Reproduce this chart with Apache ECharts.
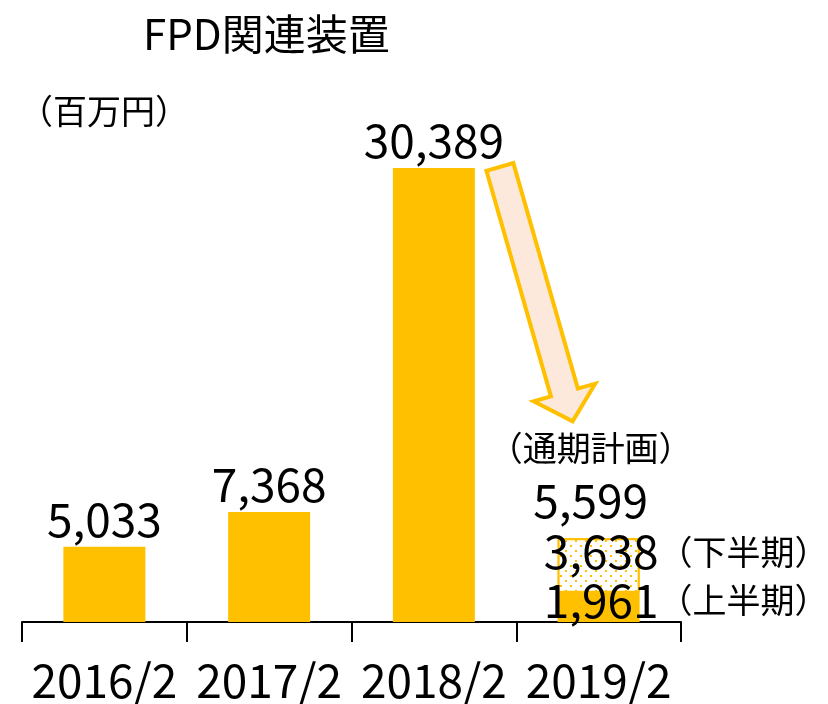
<!DOCTYPE html>
<html>
<head>
<meta charset="utf-8">
<script src="https://cdn.jsdelivr.net/npm/echarts@6/dist/echarts.min.js"></script>
<style>
  html, body { margin: 0; padding: 0; background: #fff; }
  #chart { width: 828px; height: 704px; }
</style>
</head>
<body>
<div id="chart"></div>
<script>
// データ（百万円）
const categories = ['2016/2', '2017/2', '2018/2', '2019/2'];
const results = [5033, 7368, 30389];     // 実績
const firstHalf = [null, null, null, 1961];  // 上半期
const secondHalf = [null, null, null, 3638]; // 下半期
const fullYearPlan = [null, null, null, 5599]; // 通期計画

const FONT = '"Noto Sans CJK JP", "Noto Sans", sans-serif';
const YELLOW = '#FFC000';

const fmt = v => v.toLocaleString('en-US');

const chart = echarts.init(document.getElementById('chart'));

const halfRich = {
  n: { fontFamily: FONT, fontSize: 46, color: '#000' },
  j: { fontFamily: FONT, fontSize: 34, color: '#000' }
};

const solidData = categories.map((c, i) => {
  if (i < results.length) return results[i];
  return {
    value: firstHalf[i],
    label: {
      show: true,
      position: [-14, '25%'],
      align: 'left',
      verticalAlign: 'middle',
      formatter: p => '{n|' + fmt(p.value) + '}{j|（上半期）}',
      rich: halfRich
    }
  };
});

const options = {
  animation: false,
  title: [
    {
      text: 'FPD関連装置',
      left: 138, top: 8,
      textStyle: { fontFamily: FONT, fontSize: 42, fontWeight: 'normal', color: '#000' }
    },
    {
      text: '（百万円）',
      left: 14, top: 89,
      textStyle: { fontFamily: FONT, fontSize: 34, fontWeight: 'normal', color: '#000' }
    }
  ],
  grid: { left: 22, right: 147, top: 99, bottom: 81 },
  xAxis: {
    type: 'category',
    data: categories,
    axisLine: { lineStyle: { color: '#000', width: 2 } },
    axisTick: { show: true, length: 20, lineStyle: { color: '#000', width: 2 } },
    axisLabel: {
      interval: 0, hideOverlap: false,
      fontFamily: FONT, fontSize: 46, color: '#000', margin: 36
    }
  },
  yAxis: {
    type: 'value', min: 0, max: 35000, show: false,
    splitLine: { show: false }
  },
  series: [
    {
      type: 'bar',
      stack: 'total',
      barWidth: 82,
      data: solidData,
      itemStyle: { color: YELLOW },
      label: {
        show: true,
        position: 'top',
        distance: 4,
        fontFamily: FONT,
        fontSize: 46,
        color: '#000',
        formatter: p => fmt(p.value)
      }
    },
    {
      type: 'bar',
      stack: 'total',
      barWidth: 82,
      data: secondHalf,
      itemStyle: {
        color: '#fff',
        borderColor: YELLOW,
        borderWidth: 2,
        decal: {
          symbol: 'rect',
          symbolSize: 1,
          color: YELLOW,
          backgroundColor: '#fff',
          dashArrayX: [[2, 8], [0, 5, 2, 3]],
          dashArrayY: [2, 3],
          rotation: 0
        }
      },
      label: {
        show: true,
        position: [-14, '25%'],
        align: 'left',
        verticalAlign: 'middle',
        formatter: p => '{n|' + fmt(p.value) + '}{j|（下半期）}',
        rich: halfRich
      }
    },
    {
      type: 'scatter',
      symbolSize: 0,
      data: fullYearPlan,
      itemStyle: { opacity: 1 },
      label: {
        show: true,
        position: 'top',
        distance: 12,
        offset: [-8, 0],
        color: '#000',
        formatter: p => '{p|（通期計画）}\n{n|' + fmt(p.value) + '}',
        rich: {
          p: { fontFamily: FONT, fontSize: 34, color: '#000', lineHeight: 52, align: 'center' },
          n: { fontFamily: FONT, fontSize: 46, color: '#000', lineHeight: 52, align: 'center' }
        }
      }
    }
  ]
};

chart.setOption(options);

// 矢印（2018/2 → 2019/2）
const top2018 = chart.convertToPixel({ seriesIndex: 0 }, [2, results[2]]);
const top2019 = chart.convertToPixel({ seriesIndex: 0 }, [3, fullYearPlan[3]]);
const T = [top2018[0] + 66, top2018[1] - 1];
const P = [top2019[0] - 26, top2019[1] - 117];
const dx = P[0] - T[0], dy = P[1] - T[1];
const len = Math.sqrt(dx * dx + dy * dy);
const u = [dx / len, dy / len];
const nrm = [-u[1], u[0]];
const w = 14, W = 32, h = 30;
const B = [P[0] - u[0] * h, P[1] - u[1] * h];
const pt = (base, k) => [base[0] + nrm[0] * k, base[1] + nrm[1] * k];
chart.setOption({
  graphic: [{
    type: 'polygon',
    shape: { points: [pt(T, w), pt(B, w), pt(B, W), P, pt(B, -W), pt(B, -w), pt(T, -w)] },
    style: { fill: '#FCE9DB', stroke: YELLOW, lineWidth: 4, lineJoin: 'miter' },
    z: 10
  }]
});

window.addEventListener('resize', () => chart.resize());
</script>
</body>
</html>
